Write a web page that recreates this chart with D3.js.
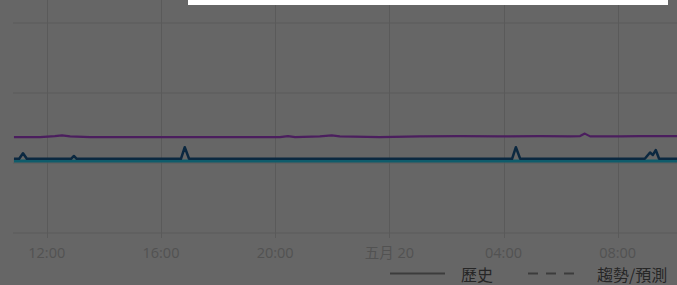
<!DOCTYPE html>
<html>
<head>
<meta charset="utf-8">
<script src="https://cdn.jsdelivr.net/npm/d3@7"></script>
<style>
  body { margin: 0; background: #666666; overflow: hidden; }
  svg { display: block; }
</style>
</head>
<body>
<div id="chart"></div>
<script>
// series (time, value)
var purpleTimes = ["05-19 10:51", "05-19 11:46", "05-19 12:17", "05-19 12:32", "05-19 12:49", "05-19 13:31",
    "05-19 17:22", "05-19 20:10", "05-19 20:27", "05-19 20:42", "05-19 21:34", "05-19 21:59", "05-19 22:16",
    "05-19 23:40", "05-20 01:04", "05-20 02:29", "05-20 03:53", "05-20 05:17", "05-20 06:20", "05-20 06:41",
    "05-20 06:51", "05-20 07:02", "05-20 08:05", "05-20 08:47", "05-20 10:10"];
var purpleValues = [13.7, 13.7, 13.85, 13.95, 13.8, 13.7,
    13.7, 13.7, 13.85, 13.7, 13.8, 13.95, 13.8,
    13.7, 13.8, 13.85, 13.8, 13.85, 13.8, 13.85,
    14.2, 13.8, 13.8, 13.85, 13.85];

var navyTimes = ["05-19 10:51", "05-19 11:02", "05-19 11:10", "05-19 11:18", "05-19 12:51", "05-19 12:57",
    "05-19 13:03", "05-19 16:42", "05-19 16:50", "05-19 16:59", "05-20 04:18", "05-20 04:26", "05-20 04:35",
    "05-20 08:57", "05-20 09:08", "05-20 09:14", "05-20 09:20", "05-20 09:27", "05-20 10:10"];
var navyValues = [10.6, 10.6, 11.4, 10.6, 10.6, 11.0,
    10.6, 10.6, 12.25, 10.6, 10.6, 12.25, 10.6,
    10.6, 11.5, 11.15, 11.85, 10.6, 10.6];

var cyanTimes = ["05-19 10:51", "05-20 10:10"];
var cyanValues = [10.3, 10.3];

var yTicks = [0, 10, 20, 30];
var legendLabels = ["歷史", "趨勢/預測"];
var monthName = "五月";

var parseTime = d3.timeParse("%Y-%m-%d %H:%M");
function toPoints(times, values) {
    return times.map(function (t, i) {
        return { date: parseTime("2023-" + t), value: values[i] };
    });
}

var width = 677, height = 285;
var svg = d3.select("#chart").append("svg")
    .attr("width", width)
    .attr("height", height);

var x = d3.scaleTime()
    .domain([parseTime("2023-05-19 10:49"), parseTime("2023-05-20 10:53")])
    .range([13, 700]);
var y = d3.scaleLinear()
    .domain([0, 30])
    .range([233, 23]);

// horizontal grid
svg.append("g")
    .selectAll("line")
    .data(yTicks)
    .enter().append("line")
    .attr("x1", 13).attr("x2", width)
    .attr("y1", function (d) { return y(d); })
    .attr("y2", function (d) { return y(d); })
    .attr("stroke", "#5a5a5a")
    .attr("stroke-width", 1);

// vertical grid + time labels
var xTicks = x.ticks(d3.timeHour.every(4));
svg.append("g")
    .selectAll("line")
    .data(xTicks)
    .enter().append("line")
    .attr("x1", function (d) { return Math.round(x(d)) + 0.5; })
    .attr("x2", function (d) { return Math.round(x(d)) + 0.5; })
    .attr("y1", 0).attr("y2", 238)
    .attr("stroke", "#5a5a5a")
    .attr("stroke-width", 1);

var fmt = d3.timeFormat("%H:%M");
svg.append("g")
    .selectAll("text")
    .data(xTicks)
    .enter().append("text")
    .attr("x", function (d) { return x(d); })
    .attr("y", 258)
    .attr("text-anchor", "middle")
    .attr("font-family", "'Open Sans', 'Noto Sans CJK TC', sans-serif")
    .attr("font-size", 14.5)
    .attr("fill", "#525252")
    .text(function (d) {
        return d.getHours() === 0 ? monthName + " " + d.getDate() : fmt(d);
    });

var line = d3.line()
    .x(function (d) { return x(d.date); })
    .y(function (d) { return y(d.value); });

svg.append("path")
    .datum(toPoints(cyanTimes, cyanValues))
    .attr("d", line)
    .attr("fill", "none")
    .attr("stroke", "#0f5c6b")
    .attr("stroke-width", 3);

svg.append("path")
    .datum(toPoints(navyTimes, navyValues))
    .attr("d", line)
    .attr("fill", "none")
    .attr("stroke", "#0b2840")
    .attr("stroke-width", 2.5)
    .attr("stroke-linejoin", "round");

svg.append("path")
    .datum(toPoints(purpleTimes, purpleValues))
    .attr("d", line)
    .attr("fill", "none")
    .attr("stroke", "#4b1e5e")
    .attr("stroke-width", 2.2)
    .attr("stroke-linejoin", "round");

// legend
var legend = svg.append("g").attr("font-family", "'Noto Sans CJK TC', sans-serif");
legend.append("line")
    .attr("x1", 390).attr("x2", 445).attr("y1", 273.5).attr("y2", 273.5)
    .attr("stroke", "#3c3c3c").attr("stroke-width", 2);
legend.append("text")
    .attr("x", 461).attr("y", 281)
    .attr("font-size", 16).attr("fill", "#262626")
    .text(legendLabels[0]);
legend.append("line")
    .attr("x1", 528).attr("x2", 578).attr("y1", 273.5).attr("y2", 273.5)
    .attr("stroke", "#3c3c3c").attr("stroke-width", 2)
    .attr("stroke-dasharray", "10,8");
legend.append("text")
    .attr("x", 597).attr("y", 281)
    .attr("font-size", 16).attr("fill", "#262626")
    .text(legendLabels[1]);

// white panel edge showing at the top
svg.append("rect")
    .attr("x", 188).attr("y", 0)
    .attr("width", 480).attr("height", 5)
    .attr("fill", "#ffffff");
</script>
</body>
</html>
